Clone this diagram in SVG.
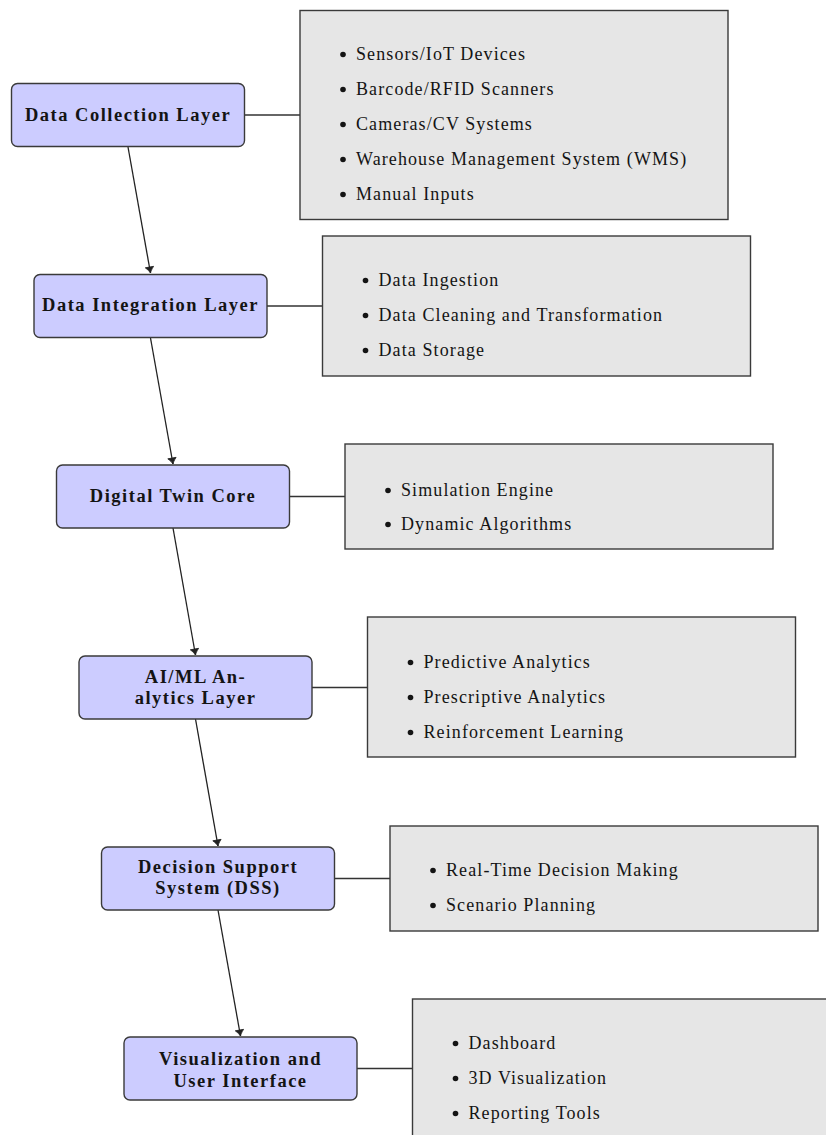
<svg xmlns="http://www.w3.org/2000/svg" width="826" height="1135" viewBox="0 0 826 1135">
<style>
.node rect{fill:#ccccff;stroke:#3a3a3a;stroke-width:1.4}
.box rect{fill:#e6e6e6;stroke:#3a3a3a;stroke-width:1.4}
.nt{font-family:"Liberation Serif",serif;font-weight:bold;font-size:18.5px;letter-spacing:1.5px;fill:#141414;text-anchor:middle}
.bt{font-family:"Liberation Serif",serif;font-size:18px;letter-spacing:1.1px;fill:#141414}
.dot{fill:#141414}
.link{stroke:#333;stroke-width:1.4;fill:none}
.arrow{stroke:#222;stroke-width:1.3;fill:none}
</style>
<defs>
<marker id="ah" viewBox="-7 -5 9 10" markerWidth="9" markerHeight="10" refX="0" refY="0" orient="auto" markerUnits="userSpaceOnUse">
<path d="M-6,-4.2 C-3.5,-1.8 -1.4,-0.6 0,0 C-1.4,0.6 -3.5,1.8 -6,4.2 Z" fill="#222" stroke="#222" stroke-width="0.8" stroke-linejoin="round"/>
</marker>
</defs>
<g id="connectors">
<line class="link" x1="244.5" y1="115" x2="300" y2="115"/>
<line class="link" x1="267" y1="306" x2="322" y2="306"/>
<line class="link" x1="289.5" y1="496.5" x2="345" y2="496.5"/>
<line class="link" x1="312" y1="687.5" x2="367.5" y2="687.5"/>
<line class="link" x1="334.5" y1="878.5" x2="390" y2="878.5"/>
<line class="link" x1="357" y1="1068.5" x2="412.5" y2="1068.5"/>
<line class="arrow" x1="128" y1="147" x2="150.5" y2="273" marker-end="url(#ah)"/>
<line class="arrow" x1="150.5" y1="338" x2="173" y2="464" marker-end="url(#ah)"/>
<line class="arrow" x1="173" y1="528" x2="195.5" y2="655" marker-end="url(#ah)"/>
<line class="arrow" x1="195.5" y1="719" x2="218" y2="846" marker-end="url(#ah)"/>
<line class="arrow" x1="218" y1="910" x2="240.5" y2="1036" marker-end="url(#ah)"/>
</g>
<g id="n1" class="node"><rect x="11.5" y="83.5" width="233" height="63" rx="6"/><text class="nt" x="128" y="121">Data Collection Layer</text></g>
<g id="n2" class="node"><rect x="34" y="274.5" width="233" height="63" rx="6"/><text class="nt" x="150.5" y="311">Data Integration Layer</text></g>
<g id="n3" class="node"><rect x="56.5" y="465" width="233" height="63" rx="6"/><text class="nt" x="173" y="502">Digital Twin Core</text></g>
<g id="n4" class="node"><rect x="79" y="656" width="233" height="63" rx="6"/><text class="nt" x="195.5" y="683">AI/ML An-</text><text class="nt" x="195.5" y="704">alytics Layer</text></g>
<g id="n5" class="node"><rect x="101.5" y="847" width="233" height="63" rx="6"/><text class="nt" x="218" y="873">Decision Support</text><text class="nt" x="218" y="894">System (DSS)</text></g>
<g id="n6" class="node"><rect x="124" y="1037" width="233" height="63" rx="6"/><text class="nt" x="240.5" y="1065">Visualization and</text><text class="nt" x="240.5" y="1087">User Interface</text></g>
<g id="b1" class="box"><rect x="300" y="10.5" width="428" height="209"/>
<circle class="dot" cx="343" cy="54.5" r="2.8"/><text class="bt" x="356" y="60">Sensors/IoT Devices</text>
<circle class="dot" cx="343" cy="89.5" r="2.8"/><text class="bt" x="356" y="95">Barcode/RFID Scanners</text>
<circle class="dot" cx="343" cy="124.5" r="2.8"/><text class="bt" x="356" y="130">Cameras/CV Systems</text>
<circle class="dot" cx="343" cy="159.5" r="2.8"/><text class="bt" x="356" y="165">Warehouse Management System (WMS)</text>
<circle class="dot" cx="343" cy="194.5" r="2.8"/><text class="bt" x="356" y="200">Manual Inputs</text>
</g>
<g id="b2" class="box"><rect x="322.5" y="236" width="428" height="140"/>
<circle class="dot" cx="365.5" cy="280.5" r="2.8"/><text class="bt" x="378.5" y="286">Data Ingestion</text>
<circle class="dot" cx="365.5" cy="315.5" r="2.8"/><text class="bt" x="378.5" y="321">Data Cleaning and Transformation</text>
<circle class="dot" cx="365.5" cy="350.5" r="2.8"/><text class="bt" x="378.5" y="356">Data Storage</text>
</g>
<g id="b3" class="box"><rect x="345" y="444" width="428" height="105"/>
<circle class="dot" cx="388" cy="490.5" r="2.8"/><text class="bt" x="401" y="496">Simulation Engine</text>
<circle class="dot" cx="388" cy="524.5" r="2.8"/><text class="bt" x="401" y="530">Dynamic Algorithms</text>
</g>
<g id="b4" class="box"><rect x="367.5" y="617" width="428" height="140"/>
<circle class="dot" cx="410.5" cy="662.5" r="2.8"/><text class="bt" x="423.5" y="668">Predictive Analytics</text>
<circle class="dot" cx="410.5" cy="697.5" r="2.8"/><text class="bt" x="423.5" y="703">Prescriptive Analytics</text>
<circle class="dot" cx="410.5" cy="732.5" r="2.8"/><text class="bt" x="423.5" y="738">Reinforcement Learning</text>
</g>
<g id="b5" class="box"><rect x="390" y="826" width="428" height="105"/>
<circle class="dot" cx="433" cy="870.5" r="2.8"/><text class="bt" x="446" y="876">Real-Time Decision Making</text>
<circle class="dot" cx="433" cy="905.5" r="2.8"/><text class="bt" x="446" y="911">Scenario Planning</text>
</g>
<g id="b6" class="box"><rect x="412.5" y="999" width="428" height="140"/>
<circle class="dot" cx="455.5" cy="1043.5" r="2.8"/><text class="bt" x="468.5" y="1049">Dashboard</text>
<circle class="dot" cx="455.5" cy="1078.5" r="2.8"/><text class="bt" x="468.5" y="1084">3D Visualization</text>
<circle class="dot" cx="455.5" cy="1113.5" r="2.8"/><text class="bt" x="468.5" y="1119">Reporting Tools</text>
</g>
</svg>
